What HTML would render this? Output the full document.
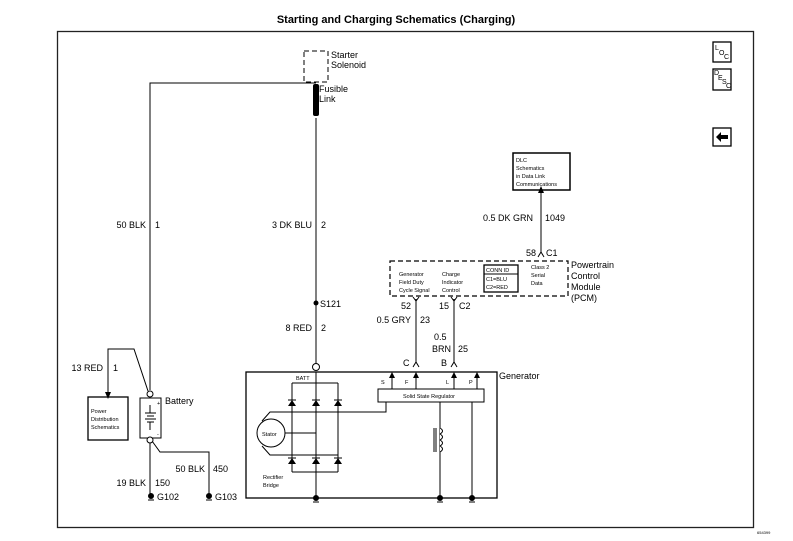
<!DOCTYPE html>
<html><head><meta charset="utf-8"><style>
html,body{margin:0;padding:0;background:#fff;}
svg{display:block;font-family:"Liberation Sans",Arial,sans-serif;}
</style></head><body>
<svg width="793" height="541" viewBox="0 0 793 541" xmlns="http://www.w3.org/2000/svg">
<g fill="#000" stroke="none">
<text x="396" y="23" text-anchor="middle" font-size="11" font-weight="bold">Starting and Charging Schematics (Charging)</text>
</g>
<rect x="57.5" y="31.5" width="696" height="496" fill="none" stroke="#222" stroke-width="1.3"/>
<!-- icons -->
<g fill="none" stroke="#000" stroke-width="1.3">
<rect x="713" y="42" width="18" height="20"/>
<rect x="713" y="69" width="18" height="21"/>
<rect x="713" y="128" width="18" height="18"/>
</g>
<g font-size="7" fill="#000">
<text x="715" y="50">L</text><text x="719" y="55">O</text><text x="724" y="59">C</text>
<text x="714" y="75">D</text><text x="718" y="80">E</text><text x="722" y="84">S</text><text x="726" y="88">C</text>
</g>
<path d="M716 137 L721 132 L721 135 L728 135 L728 139 L721 139 L721 142 Z" fill="#000"/>

<g fill="none" stroke="#000" stroke-width="1">
<!-- solenoid -->
<rect x="304" y="51" width="24" height="31" stroke-dasharray="5,3"/>
<!-- left wire -->
<path d="M316 83 L150 83 L150 390"/>
<!-- center wire -->
<path d="M316 118 L316 364"/>
<!-- generator box -->
<rect x="246" y="372" width="251" height="126" stroke-width="1.3"/>
<!-- rectifier -->
<path d="M292 383 L338 383 M292 383 L292 472 M316 372 L316 498 M338 383 L338 472 M292 472 L338 472"/>
<!-- stator wires -->
<path d="M262 421 L270 412 L386 412 L386 402 M285 433 L316 433 M262 446 L270 455 L338 455"/>
<circle cx="271" cy="433" r="14" fill="#fff"/>
<!-- regulator -->
<rect x="378" y="389" width="106" height="13"/>
<path d="M392 389 V375 M416 389 V375 M454 389 V375 M477 389 V375"/>
<path d="M440 402 V498 M472 402 V498"/>
<!-- PCM -->
<rect x="390" y="261" width="178" height="35" stroke-dasharray="5,3" stroke-width="1.2"/>
<rect x="484" y="265" width="34" height="27" stroke-width="1.3"/>
<path d="M484 274 H518"/>
<path d="M416 299 V362 M454 299 V362 M541 252 V192"/>
<rect x="513" y="153" width="57" height="37" stroke-width="1.5"/>
<!-- battery -->
<rect x="140" y="398" width="21" height="40"/>
<path d="M150 443 V494 M152 441 L160 452 L209 452 L209 494"/>
<path d="M148 391 L134 349 L108 349 L108 392"/>
<rect x="88" y="397" width="40" height="43" stroke-width="1.3"/>
<path d="M145 413 H156 M147 416 H154 M145 419 H156 M147 422 H154 M150 405 V413 M150 422 V430"/>
</g>
<circle cx="150" cy="394" r="3" fill="#fff" stroke="#000"/>
<circle cx="150" cy="440" r="3" fill="#fff" stroke="#000"/>
<circle cx="316" cy="367" r="3.5" fill="#fff" stroke="#000"/>
<circle cx="316" cy="303" r="2.5" fill="#000"/>
<!-- fusible link -->
<rect x="313" y="84" width="6" height="32" rx="2" fill="#000"/>
<!-- arrows -->
<g fill="#000">
<path d="M538 193 L541 186 L544 193 Z"/>
<path d="M105 392 L108 399 L111 392 Z"/>
<path d="M389 378 L392 372 L395 378 Z M413 378 L416 372 L419 378 Z M451 378 L454 372 L457 378 Z M474 378 L477 372 L480 378 Z"/>
</g>
<!-- connector Y marks -->
<g fill="none" stroke="#000" stroke-width="1">
<path d="M413 367 L416 362 L419 367 M451 367 L454 362 L457 367 M538 257 L541 252 L544 257 M413 297 L416 301 L419 297 M451 297 L454 301 L457 297"/>
</g>
<!-- diodes -->
<g fill="#000">
<path d="M288 406 L296 406 L292 400 Z M312 406 L320 406 L316 400 Z M334 406 L342 406 L338 400 Z"/>
<path d="M288 464 L296 464 L292 458 Z M312 464 L320 464 L316 458 Z M334 464 L342 464 L338 458 Z"/>
</g>
<g stroke="#000"><path d="M288 400 H296 M312 400 H320 M334 400 H342 M288 458 H296 M312 458 H320 M334 458 H342"/></g>
<!-- coil -->
<path d="M440 428 q5 3 0 6 q5 3 0 6 q5 3 0 6 q5 3 0 6" fill="#fff" stroke="#000"/>
<path d="M434 428 V452 M436 428 V452" stroke="#000"/>
<!-- grounds -->
<g fill="#000">
<circle cx="151" cy="496" r="3"/><circle cx="209" cy="496" r="3"/>
<circle cx="316" cy="498" r="3"/><circle cx="440" cy="498" r="3"/><circle cx="472" cy="498" r="3"/>
</g>
<g stroke="#000"><path d="M148 500 H154 M206 500 H212 M313 502 H319 M437 502 H443 M469 502 H475"/></g>
<!-- labels -->
<g fill="#000" font-size="9">
<text x="331" y="58">Starter</text><text x="331" y="68">Solenoid</text>
<text x="319" y="92">Fusible</text><text x="319" y="102">Link</text>
<text x="146" y="228" text-anchor="end">50 BLK</text><text x="155" y="228">1</text>
<text x="312" y="228" text-anchor="end">3 DK BLU</text><text x="321" y="228">2</text>
<text x="320" y="307">S121</text>
<text x="312" y="331" text-anchor="end">8 RED</text><text x="321" y="331">2</text>
<text x="103" y="371" text-anchor="end">13 RED</text><text x="113" y="371">1</text>
<text x="165" y="404">Battery</text>
<text x="146" y="486" text-anchor="end">19 BLK</text><text x="155" y="486">150</text>
<text x="205" y="472" text-anchor="end">50 BLK</text><text x="213" y="472">450</text>
<text x="157" y="500">G102</text><text x="215" y="500">G103</text>
<text x="499" y="379">Generator</text>
<text x="533" y="221" text-anchor="end">0.5 DK GRN</text><text x="545" y="221">1049</text>
<text x="536" y="256" text-anchor="end">58</text><text x="546" y="256">C1</text>
<text x="571" y="268">Powertrain</text><text x="571" y="279">Control</text><text x="571" y="290">Module</text><text x="571" y="301">(PCM)</text>
<text x="411" y="309" text-anchor="end">52</text>
<text x="449" y="309" text-anchor="end">15</text><text x="459" y="309">C2</text>
<text x="411" y="323" text-anchor="end">0.5 GRY</text><text x="420" y="323">23</text>
<text x="434" y="340">0.5</text><text x="432" y="352">BRN</text><text x="458" y="352">25</text>
<text x="403" y="366">C</text><text x="441" y="366">B</text>
</g>
<g fill="#000" font-size="5.5">
<text x="516" y="162">DLC</text><text x="516" y="170">Schematics</text><text x="516" y="178">in Data Link</text><text x="516" y="186">Communications</text>
<text x="399" y="276">Generator</text><text x="399" y="284">Field Duty</text><text x="399" y="292">Cycle Signal</text>
<text x="442" y="276">Charge</text><text x="442" y="284">Indicator</text><text x="442" y="292">Control</text>
<text x="486" y="272">CONN ID</text><text x="486" y="281">C1=BLU</text><text x="486" y="289">C2=RED</text>
<text x="531" y="269">Class 2</text><text x="531" y="277">Serial</text><text x="531" y="285">Data</text>
<text x="91" y="413">Power</text><text x="91" y="421">Distribution</text><text x="91" y="429">Schematics</text>
<text x="296" y="380">BATT</text>
<text x="381" y="384">S</text><text x="405" y="384">F</text><text x="446" y="384">L</text><text x="469" y="384">P</text>
<text x="403" y="398">Solid State Regulator</text>
<text x="262" y="436">Stator</text>
<text x="263" y="479">Rectifier</text><text x="263" y="487">Bridge</text>
<text x="157" y="405">+</text><text x="157" y="436">-</text>
<text x="757" y="534" font-size="4">654399</text>
</g>
</svg>
</body></html>
